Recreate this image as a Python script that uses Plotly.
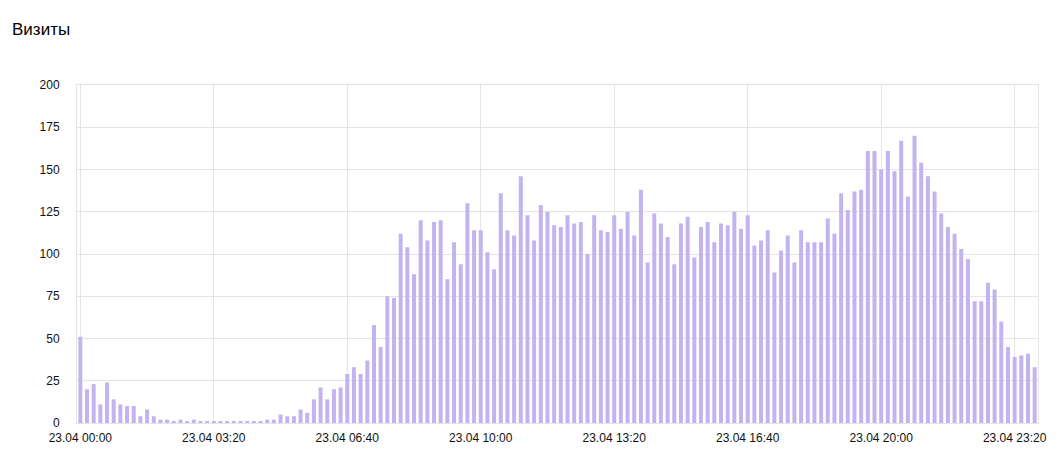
import pandas as pd
import plotly.graph_objects as go

# visits per 10-minute slot, 23.04 00:00 .. 23:50
visits = [
    51, 20, 23, 11, 24, 14, 11, 10, 10, 4, 8, 4, 2, 2, 1, 2, 1, 2, 1, 1,
    1, 1, 1, 1, 1, 1, 1, 1, 2, 2, 5, 4, 4, 8, 6, 14, 21, 14, 20, 21,
    29, 33, 29, 37, 58, 45, 75, 74, 112, 104, 88, 120, 108, 119, 120, 85, 107, 94, 130, 114,
    114, 101, 91, 136, 114, 111, 146, 123, 108, 129, 125, 117, 116, 123, 118, 119, 100, 123, 114, 113,
    123, 115, 125, 111, 138, 95, 124, 118, 110, 94, 118, 122, 98, 116, 119, 107, 118, 117, 125, 115,
    123, 105, 108, 114, 89, 102, 111, 95, 114, 107, 107, 107, 121, 112, 136, 126, 137, 138, 161, 161,
    150, 161, 149, 167, 134, 170, 154, 146, 137, 124, 116, 112, 103, 97, 72, 72, 83, 79, 60, 45,
    39, 40, 41, 33,
]
slots = pd.date_range("2023-04-23 00:00", periods=len(visits), freq="10min")
y_ticks = [0, 25, 50, 75, 100, 125, 150, 175, 200]

font = "Liberation Sans, Arial, sans-serif"
grid = "#e5e5e5"

# the page body has an 8px margin, so the figure is drawn 8px smaller
fig = go.Figure()
fig.add_trace(
    go.Bar(
        x=slots,
        y=visits,
        marker={"color": "#c3b4f0", "line": {"width": 0}},
        hoverinfo="x+y",
        showlegend=False,
    )
)

half = pd.Timedelta(minutes=5)
fig.update_layout(
    width=1052,
    height=457,
    paper_bgcolor="white",
    plot_bgcolor="white",
    bargap=0.4,
    margin={"l": 69, "r": 22, "t": 77, "b": 42, "autoexpand": False},
    font={"family": font, "size": 12, "color": "#111"},
    title={
        "text": "Визиты",
        "font": {"family": font, "size": 17, "color": "#000"},
        "xref": "container",
        "yref": "container",
        "x": 4 / 1052,
        "xanchor": "left",
        "y": 1 - 21 / 457,
        "yanchor": "middle",
    },
    xaxis={
        "type": "date",
        "range": [slots[0] - half, slots[-1] + half],
        "tick0": slots[0],
        "dtick": 200 * 60 * 1000,
        "tickformat": "%d.%m %H:%M",
        "showgrid": True,
        "gridcolor": grid,
        "showline": True,
        "linecolor": grid,
        "mirror": True,
        "ticks": "",
        "zeroline": False,
        "automargin": False,
        "ticklabelstandoff": 4,
        "tickfont": {"size": 12, "color": "#111"},
    },
    yaxis={
        "range": [0, 200],
        "tickvals": y_ticks,
        "showgrid": True,
        "gridcolor": grid,
        "showline": True,
        "linecolor": grid,
        "mirror": True,
        "zeroline": False,
        "ticks": "",
        "automargin": False,
        "ticklabelstandoff": 14,
        "tickfont": {"size": 12, "color": "#111"},
    },
)

fig.write_html("out.html")
